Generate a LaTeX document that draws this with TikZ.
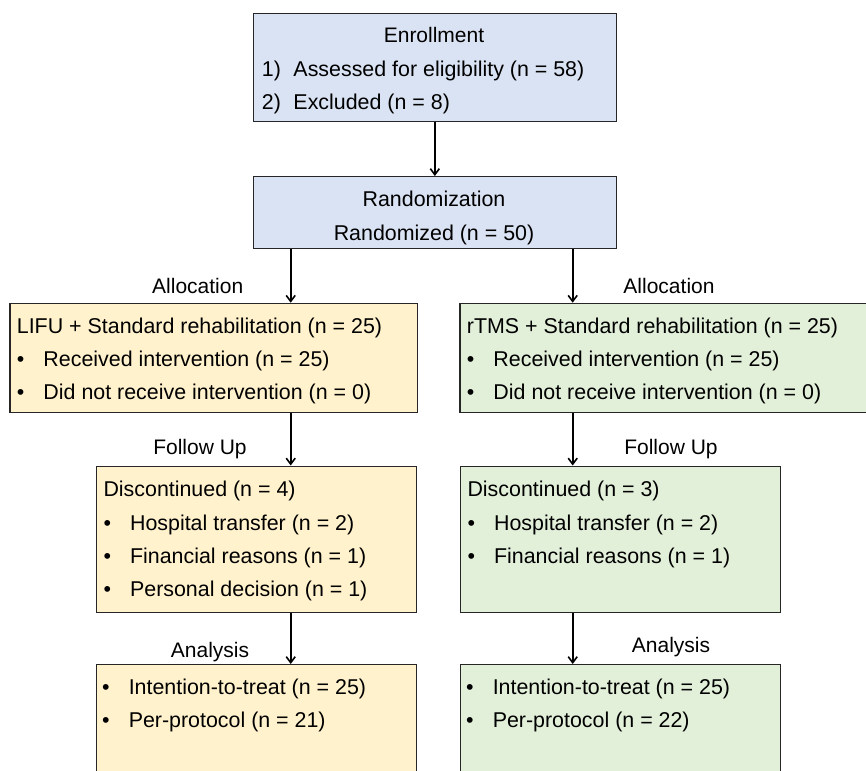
\documentclass[tikz,border=0pt]{standalone}
\usepackage{fontspec}
\setmainfont{Liberation Sans}
\usetikzlibrary{positioning,arrows.meta}
\definecolor{enrollblue}{HTML}{DAE3F3}
\definecolor{lifuyellow}{HTML}{FFF2CC}
\definecolor{rtmsgreen}{HTML}{E2F0D9}
\newcommand{\itm}{\makebox[26.6pt][l]{\textbullet}}
\newcommand{\num}[1]{\makebox[31.6pt][l]{#1}}

\begin{document}
\begin{tikzpicture}[
    x=1pt, y=-1pt,
    stage/.style={draw=black!85, line width=1.3pt, anchor=north west, inner sep=0pt},
    txt/.style={anchor=north west, inner sep=0pt, align=left, font=\fontsize{21.4}{33.3}\selectfont},
    head/.style={anchor=base, inner sep=0pt, font=\fontsize{21}{25}\selectfont},
    arrow/.style={-{Straight Barb[length=6pt,width=9pt]}, line width=1.6pt},
  ]
  \useasboundingbox (0,0) rectangle (866,770);
  \clip (0,0) rectangle (866,770);

  % Enrollment
  \node[stage, fill=enrollblue, minimum width=363pt, minimum height=108pt] (enroll) at (252.7,12.7) {};
  \node[head] (enrolltitle) at (434,42.7) {Enrollment};
  \node[txt] (enrolllist) at (261.7,60.5) {%
    \num{1)}Assessed for eligibility (n = 58)\\
    \num{2)}Excluded (n = 8)};

  % Randomization
  \node[stage, fill=enrollblue, minimum width=363pt, minimum height=72pt] (random) at (252.7,176) {};
  \node[txt, anchor=north, align=center] (randomtxt) at (434,191.2) {%
    Randomization\\
    Randomized (n = 50)};

  % Allocation
  \node[stage, fill=lifuyellow, minimum width=407.4pt, minimum height=109pt] (lalloc) at (9.3,302.7) {};
  \node[txt] (lalloctxt) at (16.7,317.6) {%
    LIFU + Standard rehabilitation (n = 25)\\
    \itm Received intervention (n = 25)\\
    \itm Did not receive intervention (n = 0)};
  \node[stage, fill=rtmsgreen, minimum width=420pt, minimum height=109pt] (ralloc) at (459.3,302.7) {};
  \node[txt] (ralloctxt) at (466.7,317.6) {%
    rTMS + Standard rehabilitation (n = 25)\\
    \itm Received intervention (n = 25)\\
    \itm Did not receive intervention (n = 0)};
  \node[head] (lalloclbl) at (197.7,293.3) {Allocation};
  \node[head] (ralloclbl) at (669,293.3) {Allocation};

  % Follow up
  \node[stage, fill=lifuyellow, minimum width=320pt, minimum height=146pt] (lfollow) at (96,465.5) {};
  \node[txt] (lfollowtxt) at (103.3,481) {%
    Discontinued (n = 4)\\
    \itm Hospital transfer (n = 2)\\
    \itm Financial reasons (n = 1)\\
    \itm Personal decision (n = 1)};
  \node[stage, fill=rtmsgreen, minimum width=320pt, minimum height=146pt] (rfollow) at (460,465.5) {};
  \node[txt] (rfollowtxt) at (467.3,481) {%
    Discontinued (n = 3)\\
    \itm Hospital transfer (n = 2)\\
    \itm Financial reasons (n = 1)};
  \node[head] (lfollowlbl) at (200,454) {Follow Up};
  \node[head] (rfollowlbl) at (671,454) {Follow Up};

  % Analysis
  \node[stage, fill=lifuyellow, minimum width=320pt, minimum height=120pt] (lanalysis) at (96,664) {};
  \node[txt] (lanalysistxt) at (102,678.8) {%
    \itm Intention-to-treat (n = 25)\\
    \itm Per-protocol (n = 21)};
  \node[stage, fill=rtmsgreen, minimum width=320pt, minimum height=120pt] (ranalysis) at (460,664) {};
  \node[txt] (ranalysistxt) at (466,678.8) {%
    \itm Intention-to-treat (n = 25)\\
    \itm Per-protocol (n = 22)};
  \node[head] (lanalysislbl) at (210,657.3) {Analysis};
  \node[head] (ranalysislbl) at (671,652.7) {Analysis};

  % Arrows
  \coordinate (lline) at (290.7,0);
  \coordinate (rline) at (572.7,0);
  \draw[arrow] (enroll) -- (random);
  \draw[arrow] (random.south -| lline) -- (lalloc.north -| lline);
  \draw[arrow] (random.south -| rline) -- (ralloc.north -| rline);
  \draw[arrow] (lalloc.south -| lline) -- (lfollow.north -| lline);
  \draw[arrow] (ralloc.south -| rline) -- (rfollow.north -| rline);
  \draw[arrow] (lfollow.south -| lline) -- (lanalysis.north -| lline);
  \draw[arrow] (rfollow.south -| rline) -- (ranalysis.north -| rline);
\end{tikzpicture}
\end{document}
